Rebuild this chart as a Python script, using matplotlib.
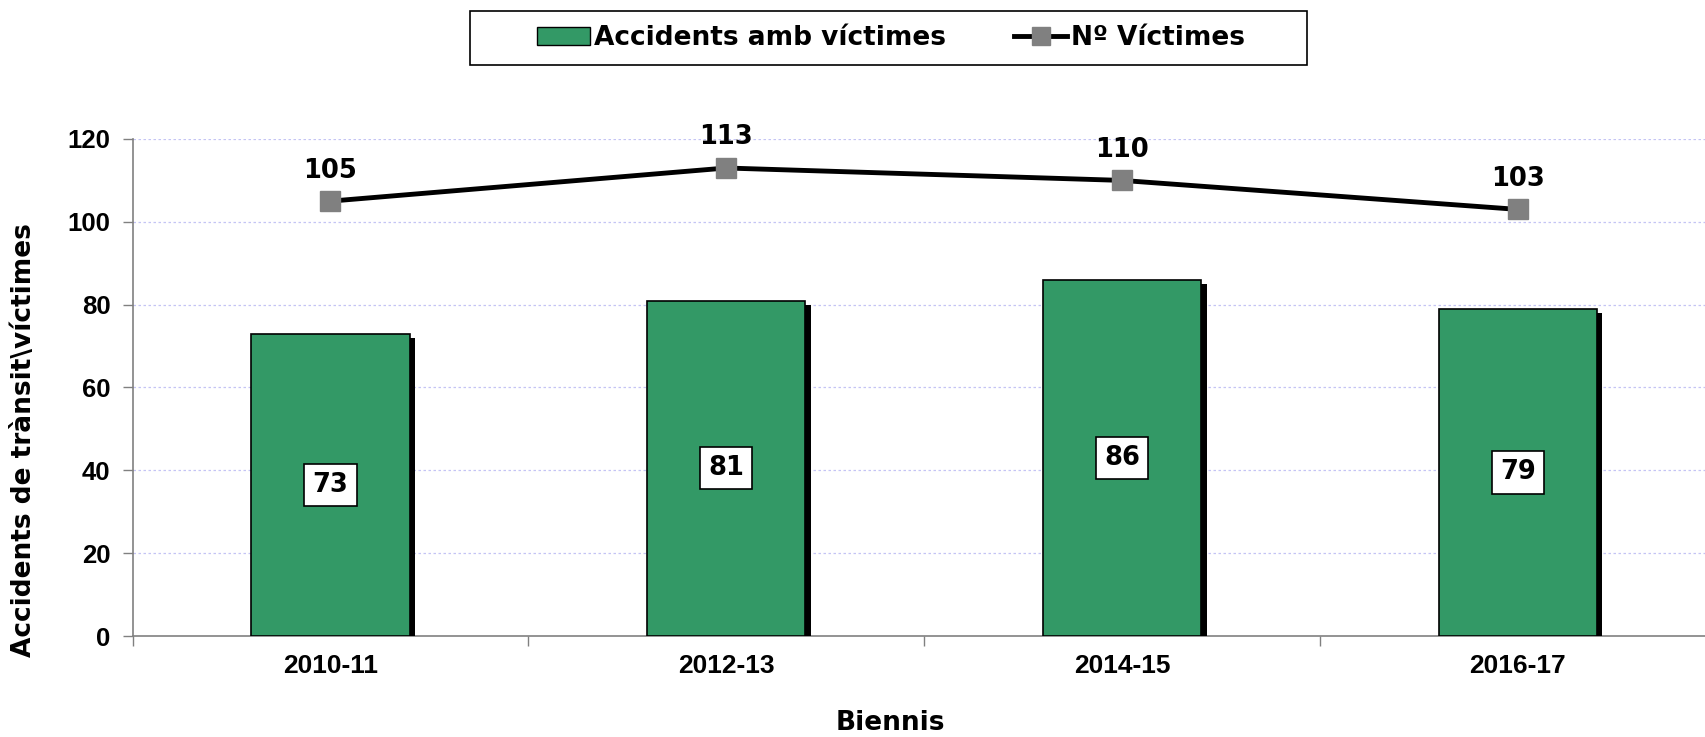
import matplotlib
matplotlib.use("Agg")
import matplotlib.pyplot as plt
import matplotlib.patheffects as pe
from matplotlib.lines import Line2D
from matplotlib.patches import Patch, Rectangle

categories = ["2010-11", "2012-13", "2014-15", "2016-17"]
accidents = [73, 81, 86, 79]
victims = [105, 113, 110, 103]
yticks = [0, 20, 40, 60, 80, 100, 120]

GREEN = "#339966"
GRAY = "#808080"

fig = plt.figure(figsize=(17.05, 7.37), dpi=100)
ax = fig.add_axes([132.6 / 1705, 101 / 737, 1583 / 1705, 497 / 737])

x = list(range(len(categories)))
bars = ax.bar(x, accidents, width=0.4, color=GREEN, edgecolor="black", linewidth=1.2, zorder=3)
for b in bars:
    b.set_path_effects([pe.SimplePatchShadow(offset=(4, -3), shadow_rgbFace="black", alpha=1.0), pe.Normal()])

for xi, v in zip(x, accidents):
    ax.text(xi, v / 2, str(v), ha="center", va="center", fontsize=18.5, fontweight="bold",
            family="DejaVu Sans", zorder=6,
            bbox=dict(boxstyle="square,pad=0.32", fc="white", ec="black", lw=1.2))

ax.plot(x, victims, color="black", lw=3.5, marker="s", markersize=14, markerfacecolor=GRAY,
        markeredgecolor=GRAY, zorder=5)
for xi, v in zip(x, victims):
    ax.annotate(str(v), (xi, v), xytext=(0, 22), textcoords="offset points", ha="center",
                va="center", fontsize=18.5, fontweight="bold", family="DejaVu Sans", zorder=6)

ax.set_xlim(-0.5, 3.5)
ax.set_ylim(0, 120)
ax.set_yticks(yticks)
ax.set_yticklabels([str(t) for t in yticks], fontsize=18.5, fontweight="bold", family="Liberation Sans")
ax.tick_params(axis="y", direction="out", length=7, width=1, color=GRAY, pad=9)

ax.set_xticks([-0.5, 0.5, 1.5, 2.5, 3.5])
ax.set_xticklabels([])
ax.tick_params(axis="x", which="major", direction="out", length=7, width=1, color=GRAY)
ax.set_xticks(x, minor=True)
ax.set_xticklabels(categories, minor=True, fontsize=19, fontweight="bold", family="Liberation Sans")
ax.tick_params(axis="x", which="minor", length=0, pad=13)

for t in yticks[1:]:
    ax.axhline(t, color="#c4c4f4", lw=0.9, ls=(0, (2, 2)), zorder=1)

for s in ["top", "right"]:
    ax.spines[s].set_visible(False)
for s in ["left", "bottom"]:
    ax.spines[s].set_color(GRAY)
    ax.spines[s].set_linewidth(1.2)

fig.text(890 / 1705, (737 - 723) / 737, "Biennis", ha="center", va="center", fontsize=19,
         fontweight="bold", family="DejaVu Sans")
fig.text(24 / 1705, (737 - 440) / 737, "Accidents de trànsit\\víctimes", ha="center", va="center",
         rotation=90, fontsize=19, fontweight="bold", family="DejaVu Sans")

# legend frame (wider than the entries, as in the original)
fig.patches.append(Rectangle((470 / 1705, (737 - 65) / 737), (1307 - 470) / 1705, 54 / 737,
                             transform=fig.transFigure, fc="white", ec="black", lw=1.2, zorder=0))

handles = [Patch(facecolor=GREEN, edgecolor="black", linewidth=1),
           Line2D([0], [0], color="black", lw=3.5, marker="s", markersize=13,
                  markerfacecolor=GRAY, markeredgecolor=GRAY)]
leg = fig.legend(handles, ["Accidents amb víctimes", "Nº Víctimes"], loc="center",
                 bbox_to_anchor=(891 / 1705, (737 - 38) / 737), ncol=2, frameon=False,
                 prop=dict(family="DejaVu Sans", weight="bold", size=19),
                 handlelength=2.0, handleheight=0.7, handletextpad=0.15, columnspacing=2.6,
                 borderpad=0.55, borderaxespad=0)

fig.savefig("out.png", dpi=100)
